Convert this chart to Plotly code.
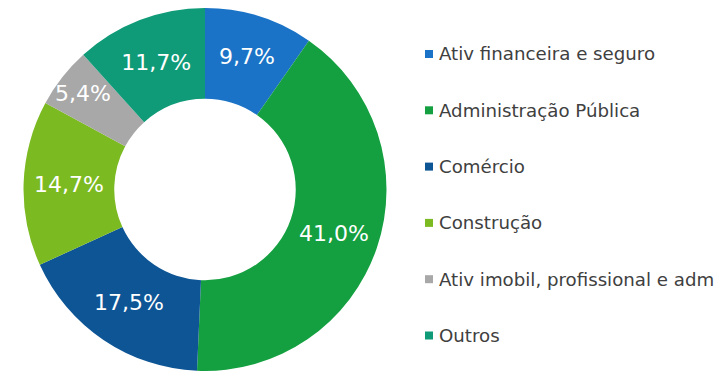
import plotly.graph_objects as go

# Sector shares (%), clockwise from 12 o'clock
categories = [
    "Ativ financeira e seguro",
    "Administração Pública",
    "Comércio",
    "Construção",
    "Ativ imobil, profissional e adm",
    "Outros",
]
shares = [9.7, 41.0, 17.5, 14.7, 5.4, 11.7]
colors = ["#1A73C6", "#14A040", "#0D5595", "#7CBA22", "#A8A8A8", "#0F9A78"]

labels_pt = [f"{v:.1f}%".replace(".", ",") for v in shares]

W, H = 716, 371
top_px, diam = 8, 363
cx = 205

fig = go.Figure(
    go.Pie(
        labels=categories,
        values=shares,
        text=labels_pt,
        textinfo="text",
        textposition="inside",
        insidetextorientation="horizontal",
        insidetextfont=dict(family="DejaVu Sans", size=22, color="white"),
        marker=dict(colors=colors, line=dict(width=0)),
        hole=0.5,
        sort=False,
        direction="clockwise",
        rotation=0,
        showlegend=False,
        hoverinfo="label+text",
        domain=dict(x=[(cx - diam / 2) / W, (cx + diam / 2) / W],
                    y=[max(0, 1 - (top_px + diam) / H), 1 - top_px / H]),
    )
)

# Legend drawn as coloured squares with labels
leg_x0 = 425
leg_y0 = 54
leg_step = 56.3
sq = 8
for i, (name, col) in enumerate(zip(categories, colors)):
    yc = leg_y0 + i * leg_step
    fig.add_shape(
        type="rect", xref="paper", yref="paper",
        x0=leg_x0 / W, x1=(leg_x0 + sq) / W,
        y0=1 - (yc + sq / 2) / H, y1=1 - (yc - sq / 2) / H,
        fillcolor=col, line=dict(width=0),
    )
    fig.add_annotation(
        xref="paper", yref="paper",
        x=(leg_x0 + sq + 4) / W, y=1 - yc / H,
        xanchor="left", yanchor="middle",
        text=name, showarrow=False,
        font=dict(family="DejaVu Sans", size=18.2, color="#404040"),
    )

fig.update_layout(
    width=W, height=H,
    margin=dict(l=0, r=0, t=0, b=0),
    paper_bgcolor="white",
    plot_bgcolor="white",
    uniformtext=dict(minsize=20, mode="show"),
)

fig.write_html("out.html")
